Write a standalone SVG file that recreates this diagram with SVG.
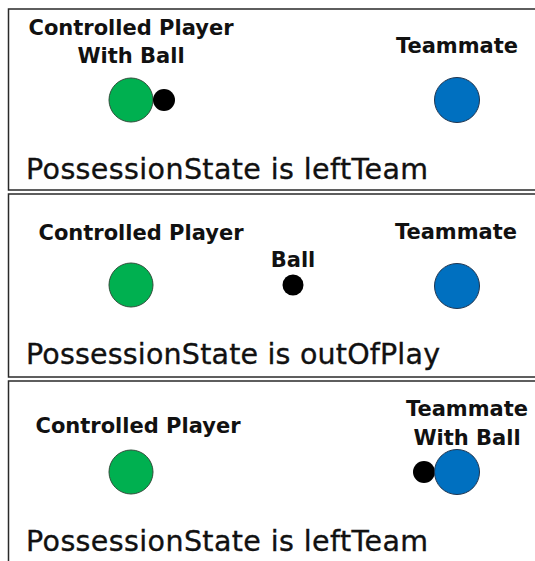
<svg xmlns="http://www.w3.org/2000/svg" width="535" height="561" viewBox="0 0 535 561">
<style>
.panel{fill:#fff;stroke:#2a2a2a;stroke-width:1.5}
.lbl{font-family:"DejaVu Sans",Verdana,sans-serif;font-weight:bold;font-size:21px;fill:#111;text-anchor:middle}
.state{font-family:"DejaVu Sans",Verdana,sans-serif;font-size:28.5px;fill:#111;stroke:#111;stroke-width:0.35}
.me{fill:#00B050;stroke:#2f4f3a;stroke-width:1}
.mate{fill:#0070C0;stroke:#1f3550;stroke-width:1}
.ball{fill:#000}
</style>
<rect width="535" height="561" fill="#fff"/>
<g id="panel1">
<rect class="panel" x="8.5" y="9" width="540" height="181"/>
<g id="p1-controlled"><circle class="me" cx="131" cy="100" r="22"/>
<text class="lbl" x="131" y="35">Controlled Player</text>
<text class="lbl" x="131" y="63">With Ball</text></g>
<g id="p1-ball"><circle class="ball" cx="164" cy="100" r="11"/></g>
<g id="p1-teammate"><circle class="mate" cx="457" cy="100" r="22.5"/>
<text class="lbl" x="457" y="53">Teammate</text></g>
<text class="state" x="26" y="179" textLength="402" lengthAdjust="spacing">PossessionState is leftTeam</text>
</g>
<g id="panel2">
<rect class="panel" x="8.5" y="194" width="540" height="183"/>
<g id="p2-controlled"><circle class="me" cx="131" cy="285" r="22"/>
<text class="lbl" x="141" y="240">Controlled Player</text></g>
<g id="p2-ball"><circle class="ball" cx="293" cy="285" r="10.5"/>
<text class="lbl" x="293" y="267">Ball</text></g>
<g id="p2-teammate"><circle class="mate" cx="457" cy="286" r="22.5"/>
<text class="lbl" x="456" y="239">Teammate</text></g>
<text class="state" x="26" y="364" textLength="414" lengthAdjust="spacing">PossessionState is outOfPlay</text>
</g>
<g id="panel3">
<rect class="panel" x="8.5" y="381" width="540" height="200"/>
<g id="p3-controlled"><circle class="me" cx="131" cy="472" r="22"/>
<text class="lbl" x="138" y="433">Controlled Player</text></g>
<g id="p3-ball"><circle class="ball" cx="424" cy="472" r="11"/></g>
<g id="p3-teammate"><circle class="mate" cx="457" cy="472" r="22.5"/>
<text class="lbl" x="467" y="416">Teammate</text>
<text class="lbl" x="467" y="445">With Ball</text></g>
<text class="state" x="26" y="551" textLength="402" lengthAdjust="spacing">PossessionState is leftTeam</text>
</g>
<g id="connectors"/>
</svg>
